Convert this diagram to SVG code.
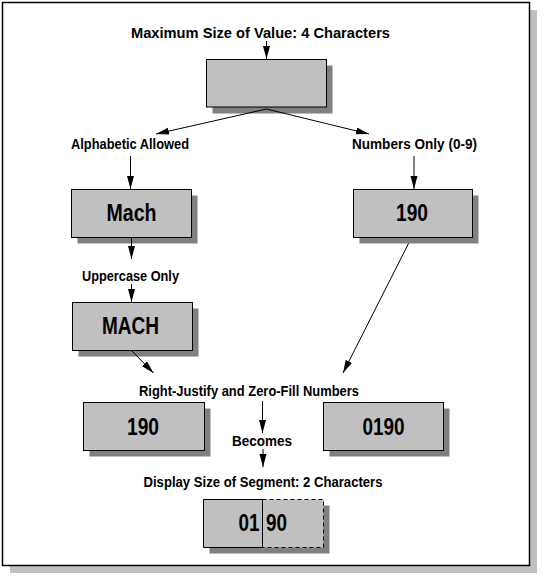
<svg xmlns="http://www.w3.org/2000/svg" width="546" height="582" viewBox="0 0 546 582">
<defs>
<marker id="ah" markerUnits="userSpaceOnUse" markerWidth="14" markerHeight="8" refX="13" refY="3.5" orient="auto">
<path d="M0,0 L13,3.5 L0,7 z" fill="#000"/>
</marker>
<style>
.box{fill:#c0c0c0;stroke:#000;stroke-width:1}
.sh{fill:#808080}
.lbl{font-family:"Liberation Sans",Arial,sans-serif;font-weight:bold;font-size:15px;fill:#000;text-anchor:middle}
.big{font-family:"Liberation Sans",Arial,sans-serif;font-weight:bold;font-size:23.5px;fill:#000;text-anchor:middle}
.cn{stroke:#000;stroke-width:1;fill:none}
</style>
</defs>
<rect x="0" y="0" width="546" height="582" fill="#fff"/>
<g id="frame">
<rect x="10" y="10" width="527" height="563" fill="#c0c0c0"/>
<rect x="2.5" y="2.5" width="527" height="563" fill="#fff" stroke="#000" stroke-width="1.5"/>
</g>
<g id="title"><text class="lbl" x="260.5" y="37.5" textLength="259" lengthAdjust="spacingAndGlyphs">Maximum Size of Value: 4 Characters</text></g>
<g id="value-box">
<rect class="sh" x="212.5" y="65.5" width="120" height="48"/>
<rect class="box" x="206.5" y="59.5" width="120" height="47.5"/>
</g>
<g id="alpha-label"><text class="lbl" x="130" y="149" textLength="118" lengthAdjust="spacingAndGlyphs">Alphabetic Allowed</text></g>
<g id="num-label"><text class="lbl" x="414.5" y="149" textLength="125" lengthAdjust="spacingAndGlyphs">Numbers Only (0-9)</text></g>
<g id="mach-box">
<rect class="sh" x="77.5" y="195.5" width="120" height="48"/>
<rect class="box" x="71.5" y="189.5" width="120" height="48"/>
<text class="big" x="131.5" y="221" textLength="50" lengthAdjust="spacingAndGlyphs">Mach</text>
</g>
<g id="num190-box">
<rect class="sh" x="359.5" y="195.5" width="119" height="48"/>
<rect class="box" x="353.5" y="189.5" width="119" height="48"/>
<text class="big" x="412" y="221" textLength="32" lengthAdjust="spacingAndGlyphs">190</text>
</g>
<g id="upper-label"><text class="lbl" x="130.5" y="280.5" textLength="97" lengthAdjust="spacingAndGlyphs">Uppercase Only</text></g>
<g id="MACH-box">
<rect class="sh" x="78.5" y="308.5" width="120" height="48"/>
<rect class="box" x="72.5" y="302.5" width="120" height="48"/>
<text class="big" x="130.5" y="334" textLength="57" lengthAdjust="spacingAndGlyphs">MACH</text>
</g>
<g id="rj-label"><text class="lbl" x="249" y="396" textLength="220" lengthAdjust="spacingAndGlyphs">Right-Justify and Zero-Fill Numbers</text></g>
<g id="left190-box">
<rect class="sh" x="89.5" y="408.5" width="121" height="48"/>
<rect class="box" x="83.5" y="402.5" width="121" height="48"/>
<text class="big" x="143" y="434.5" textLength="32" lengthAdjust="spacingAndGlyphs">190</text>
</g>
<g id="zero190-box">
<rect class="sh" x="329.5" y="408.5" width="120" height="48"/>
<rect class="box" x="323.5" y="402.5" width="120" height="48"/>
<text class="big" x="383.5" y="434.5" textLength="42" lengthAdjust="spacingAndGlyphs">0190</text>
</g>
<g id="becomes-label"><text class="lbl" x="262" y="446" textLength="60" lengthAdjust="spacingAndGlyphs">Becomes</text></g>
<g id="display-label"><text class="lbl" x="263" y="486.5" textLength="239" lengthAdjust="spacingAndGlyphs">Display Size of Segment: 2 Characters</text></g>
<g id="segment-box">
<rect class="sh" x="209.5" y="505.5" width="120" height="48"/>
<rect x="203.5" y="499.5" width="120" height="48" fill="#c0c0c0"/>
<path d="M262.5,499.5 H203.5 V547.5 H262.5 Z" fill="none" stroke="#000" stroke-width="1"/>
<path d="M262.5,499.5 H323.5 V547.5 H262.5" fill="none" stroke="#000" stroke-width="1" stroke-dasharray="4,3"/>
<text class="big" x="249" y="531" textLength="21" lengthAdjust="spacingAndGlyphs">01</text>
<text class="big" x="276.5" y="531" textLength="21" lengthAdjust="spacingAndGlyphs">90</text>
</g>
<g id="connectors">
<line class="cn" x1="266.5" y1="41" x2="266.5" y2="59" marker-end="url(#ah)"/>
<line class="cn" x1="266.5" y1="109" x2="156" y2="134" marker-end="url(#ah)"/>
<line class="cn" x1="266.5" y1="109" x2="369" y2="134" marker-end="url(#ah)"/>
<line class="cn" x1="130.5" y1="156" x2="130.5" y2="189" marker-end="url(#ah)"/>
<line class="cn" x1="414" y1="156" x2="414" y2="189" marker-end="url(#ah)"/>
<line class="cn" x1="131.5" y1="237.5" x2="131.5" y2="259" marker-end="url(#ah)"/>
<line class="cn" x1="131.5" y1="284" x2="131.5" y2="302" marker-end="url(#ah)"/>
<line class="cn" x1="131" y1="350" x2="153.5" y2="373" marker-end="url(#ah)"/>
<line class="cn" x1="408.5" y1="243.5" x2="343" y2="373" marker-end="url(#ah)"/>
<line class="cn" x1="262.5" y1="401" x2="262.5" y2="433" marker-end="url(#ah)"/>
<line class="cn" x1="263" y1="449" x2="263" y2="467" marker-end="url(#ah)"/>
</g>
</svg>
